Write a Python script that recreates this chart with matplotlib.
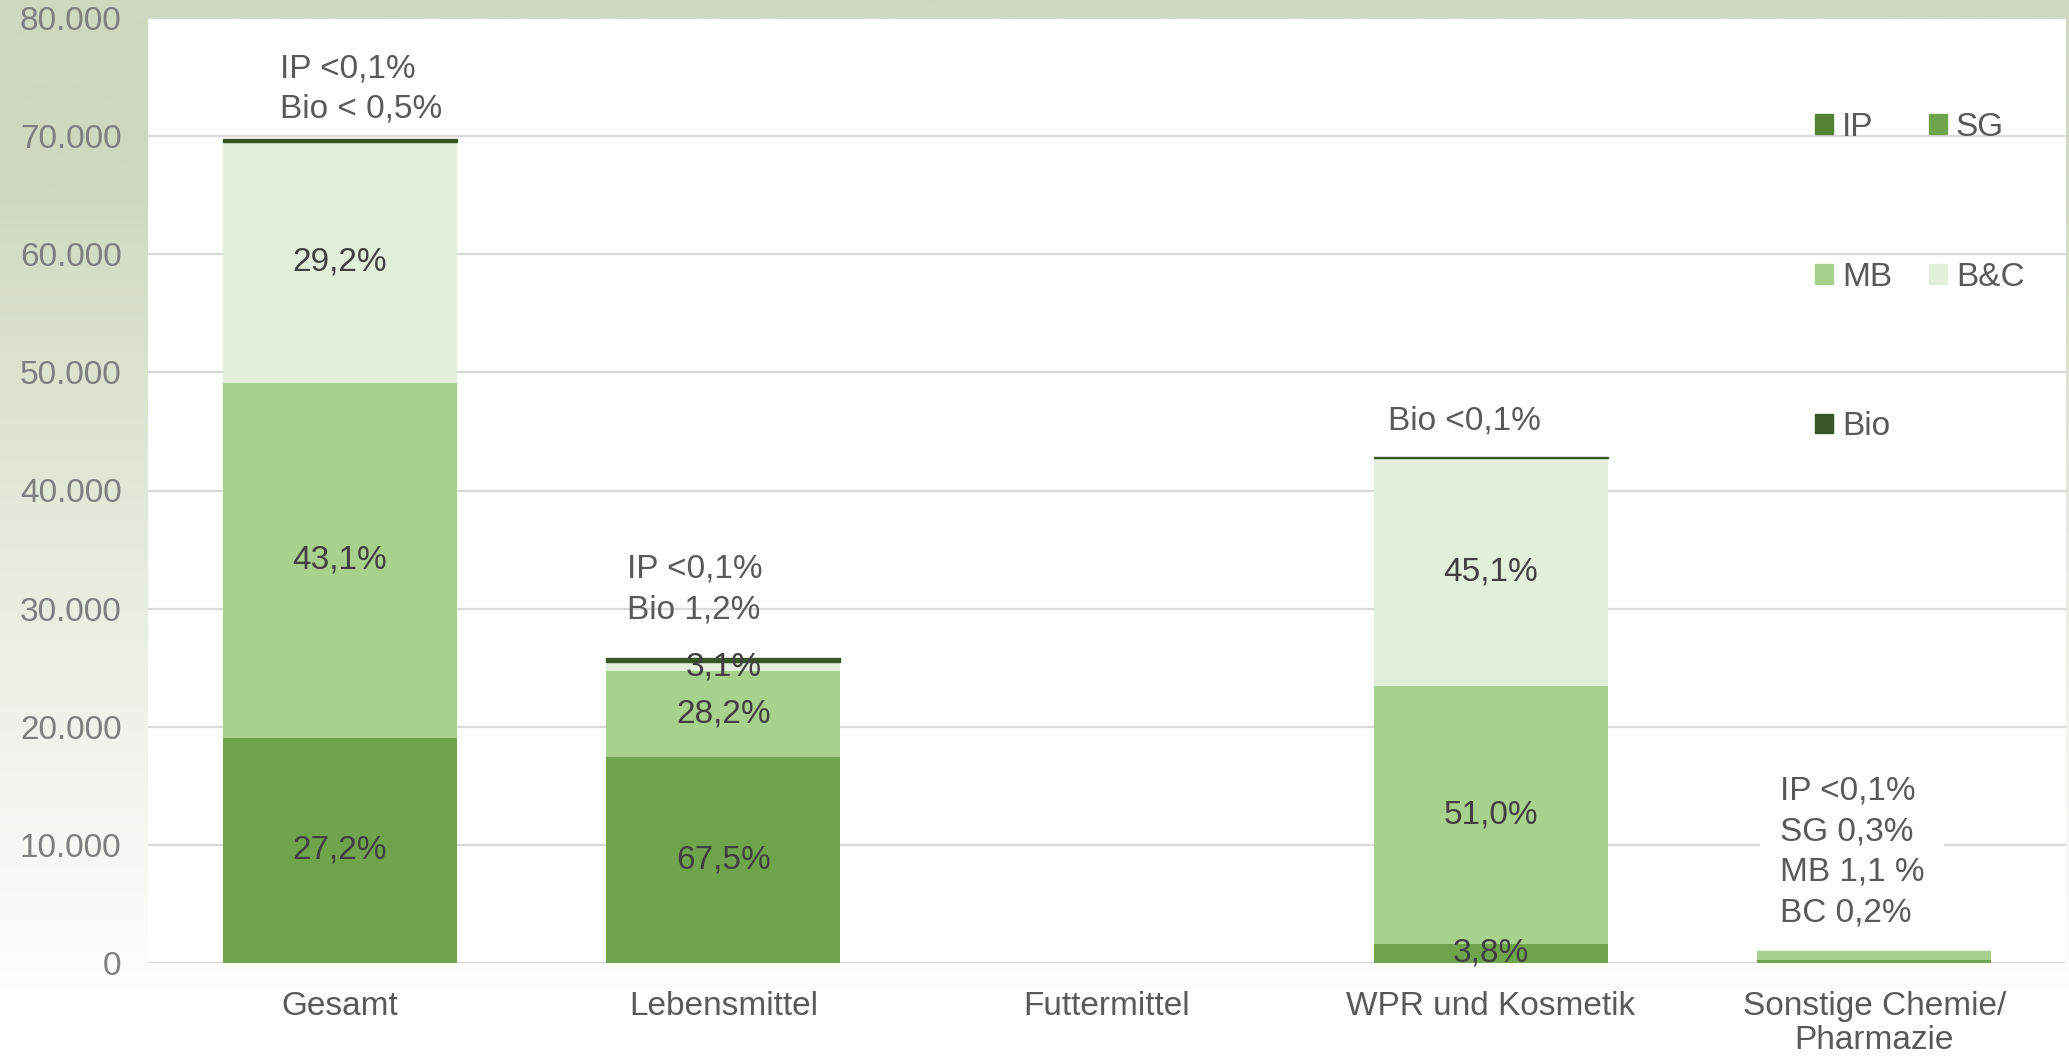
import numpy as np
import matplotlib
matplotlib.use("Agg")
import matplotlib.pyplot as plt
from matplotlib.ticker import FuncFormatter, MultipleLocator
from matplotlib.patches import Patch

plt.rcParams['font.family'] = ['Liberation Sans', 'DejaVu Sans']

# data (Tonnen)
categories = ["Gesamt", "Lebensmittel", "Futtermittel", "WPR und Kosmetik", "Sonstige Chemie/\nPharmazie"]
ip_vals = [30, 20, 0, 20, 20]
sg_vals = [19000, 17400, 0, 1630, 210]
mb_vals = [30100, 7280, 0, 21830, 770]
bc_vals = [20400, 800, 0, 19300, 140]
bio_vals = [250, 310, 0, 40, 0]

sg_labels = ["27,2%", "67,5%", "", "3,8%", ""]
mb_labels = ["43,1%", "28,2%", "", "51,0%", ""]
bc_labels = ["29,2%", "3,1%", "", "45,1%", ""]

# notes above the bars: (x, y, text)
notes = [
    (-0.156, 74000, "IP <0,1%\nBio < 0,5%"),
    (0.749, 31600, "IP <0,1%\nBio 1,2%"),
    (2.733, 45900, "Bio <0,1%"),
    (3.754, 9400, "IP <0,1%\nSG 0,3%\nMB 1,1 %\nBC 0,2%"),
]

c_ip = '#548235'
c_sg = '#70a44c'
c_mb = '#a9d18e'
c_bc = '#e2efda'
c_bio = '#375623'

W, H = 2069, 1057
fig = plt.figure(figsize=(W / 100, H / 100), dpi=100)

# background gradient (green at top, fading to white)
bg = fig.add_axes([0, 0, 1, 1], zorder=-10)
t = np.linspace(0, 1, 400)
w = np.clip((t - 0.18) / 0.78, 0, 1) ** 0.9
top = np.array([0xcf, 0xd9, 0xbf]) / 255
grad = top[None, :] * (1 - w[:, None]) + np.ones(3)[None, :] * w[:, None]
bg.imshow(grad[:, None, :], aspect='auto', extent=[0, 1, 0, 1], origin='upper')
bg.set_axis_off()

ax = fig.add_axes([148 / W, 1 - 963 / H, (2066 - 148) / W, (963 - 18) / H])
ax.set_facecolor('white')

x = np.arange(len(categories))
bw = 0.61
ip = np.array(ip_vals)
sg = np.array(sg_vals)
mb = np.array(mb_vals)
bc = np.array(bc_vals)
bio = np.array(bio_vals)

b_ip = ax.bar(x, ip, bw, color=c_ip, label='IP', zorder=3)
b_sg = ax.bar(x, sg, bw, bottom=ip, color=c_sg, label='SG', zorder=3)
b_mb = ax.bar(x, mb, bw, bottom=ip + sg, color=c_mb, label='MB', zorder=3)
b_bc = ax.bar(x, bc, bw, bottom=ip + sg + mb, color=c_bc, label='B&C', zorder=3)
b_bio = ax.bar(x, bio, bw, bottom=ip + sg + mb + bc, color=c_bio, label='Bio',
               edgecolor=c_bio, linewidth=np.where(bio > 0, 1.0, 0.0), zorder=3)

for cont, labs in [(b_sg, sg_labels), (b_mb, mb_labels), (b_bc, bc_labels)]:
    ax.bar_label(cont, labels=labs, label_type='center', fontsize=24, color='#404040', zorder=5)

for nx, ny, txt in notes:
    kw = {}
    if txt.count("\n") > 2:
        kw['bbox'] = dict(boxstyle='square,pad=0.6', facecolor='white', edgecolor='none')
    ax.text(nx, ny, txt, ha='left', va='center', fontsize=24, color='#595959',
            linespacing=1.4, zorder=4, **kw)

ax.set_xlim(-0.5, len(categories) - 0.5)
ax.set_ylim(0, 80000)
ax.yaxis.set_major_locator(MultipleLocator(10000))
ax.yaxis.set_major_formatter(FuncFormatter(lambda v, p: f"{int(v):,}".replace(",", ".")))
ax.grid(axis='y', color='#d9d9d9', linewidth=1.6, zorder=0)
ax.set_axisbelow(True)
for s in ax.spines.values():
    s.set_visible(False)

ax.set_xticks(x)
ax.set_xticklabels(categories, fontsize=24, color='#595959', linespacing=1.15)
ax.tick_params(axis='x', length=0, pad=20)
ax.tick_params(axis='y', length=0, pad=19, labelsize=24, labelcolor='#7f7f7f')

handles = [Patch(color=c_ip), Patch(color=c_mb), Patch(color=c_bio),
           Patch(color=c_sg), Patch(color=c_bc)]
names = ['IP', 'MB', 'Bio', 'SG', 'B&C']
fig.legend(handles, names, ncol=2, loc='upper left',
           bbox_to_anchor=(1815 / W, 1 - 112 / H), frameon=False, fontsize=24,
           labelcolor='#595959', handlelength=0.54, handleheight=0.54,
           handletextpad=0.27, columnspacing=1.1, labelspacing=3.56,
           borderpad=0, borderaxespad=0)

fig.savefig('out.png', dpi=100)
